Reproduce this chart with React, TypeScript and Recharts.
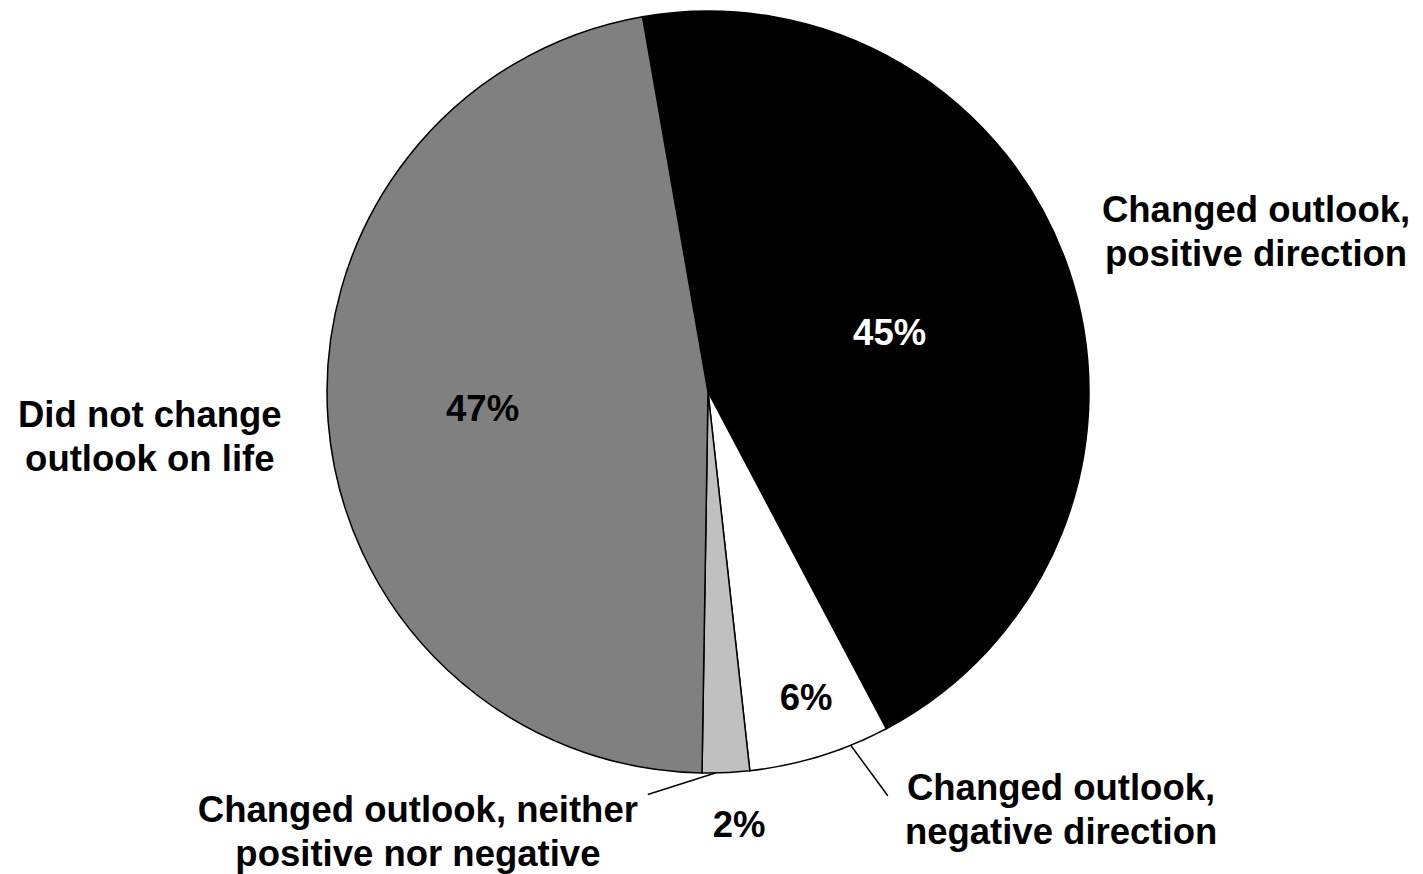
import { PieChart, Pie, Cell } from 'recharts';

const categories = [
  'Changed outlook, positive direction',
  'Changed outlook, negative direction',
  'Changed outlook, neither positive nor negative',
  'Did not change outlook on life',
];
const values = [45, 6, 2, 47];
const pctLabels = ['45%', '6%', '2%', '47%'];
const nameLines = [
  ['Changed outlook,', 'positive direction'],
  ['Changed outlook,', 'negative direction'],
  ['Changed outlook, neither', 'positive nor negative'],
  ['Did not change', 'outlook on life'],
];
const colors = ['#000000', '#ffffff', '#c0c0c0', '#808080'];

const data = categories.map((name, i) => ({ name, value: values[i] }));

// label placement, polar around the pie centre: r in px, a = compass degrees
const layout = [
  { pct: { r: 191, a: 72 }, name: { r: 571, a: 73.7 }, pctColor: '#fff' },
  { pct: { r: 321, a: 162.2 }, name: { r: 547, a: 139.8 }, line: [381, 158, 442, 156], pctColor: '#000' },
  { pct: { r: 434, a: 175.9 }, name: { r: 527, a: 213.4 }, line: [381, 178.9, 407, 188.5], pctColor: '#000' },
  { pct: { r: 226, a: 265.9 }, name: { r: 560, a: 265.4 }, pctColor: '#000' },
];

const FONT = 'Arial, "Liberation Sans", sans-serif';

const polar = (cx: number, cy: number, r: number, a: number) => {
  const rad = (a * Math.PI) / 180;
  return { x: cx + r * Math.sin(rad), y: cy - r * Math.cos(rad) };
};

const renderLabel = (props: any) => {
  const { cx, cy, index } = props;
  const l = layout[index];
  const p = polar(cx, cy, l.pct.r, l.pct.a);
  const n = polar(cx, cy, l.name.r, l.name.a);
  let leader = null;
  if (l.line) {
    const a = polar(cx, cy, l.line[0], l.line[1]);
    const b = polar(cx, cy, l.line[2], l.line[3]);
    leader = <line x1={a.x} y1={a.y} x2={b.x} y2={b.y} stroke="#000" strokeWidth={1.5} />;
  }
  return (
    <g>
      {leader}
      <text x={p.x} y={p.y} textAnchor="middle" dominantBaseline="central" fill={l.pctColor}
        fontFamily={FONT} fontWeight="bold" fontSize={36.5}>
        {pctLabels[index]}
      </text>
      {nameLines[index].map((t, k) => (
        <text key={k} x={n.x} y={n.y + (k === 0 ? -22 : 22)} textAnchor="middle" dominantBaseline="central"
          fill="#000" fontFamily={FONT} fontWeight="bold" fontSize={36.5}>
          {t}
        </text>
      ))}
    </g>
  );
};

export default function App() {
  return (
    <div style={{ position: 'absolute', left: 0, top: 0, background: '#fff' }}>
      <PieChart width={1423} height={874} margin={{ top: 0, right: 0, bottom: 0, left: 0 }}>
        <Pie
          data={data}
          dataKey="value"
          nameKey="name"
          cx={708}
          cy={392}
          outerRadius={381}
          startAngle={99.9}
          endAngle={-260.1}
          stroke="#000"
          strokeWidth={1.5}
          label={renderLabel}
          labelLine={false}
          isAnimationActive={false}
        >
          {data.map((d, i) => (
            <Cell key={d.name} fill={colors[i]} />
          ))}
        </Pie>
      </PieChart>
    </div>
  );
}
